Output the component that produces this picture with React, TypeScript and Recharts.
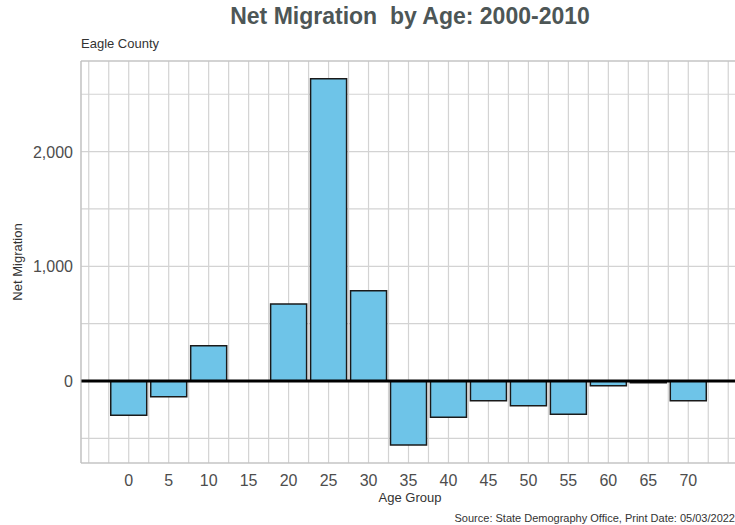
import React from "react";
import {
  BarChart,
  Bar,
  XAxis,
  YAxis,
  CartesianGrid,
  ReferenceLine,
} from "recharts";

const ageGroups = [0, 5, 10, 15, 20, 25, 30, 35, 40, 45, 50, 55, 60, 65, 70];
const netMigration = [
  -299, -137, 308, 0, 671, 2636, 787, -558, -317, -172, -215, -291, -41, -15, -172,
];
const xGridTicks = [
  -5, -2.5, 0, 2.5, 5, 7.5, 10, 12.5, 15, 17.5, 20, 22.5, 25, 27.5, 30, 32.5, 35,
  37.5, 40, 42.5, 45, 47.5, 50, 52.5, 55, 57.5, 60, 62.5, 65, 67.5, 70, 72.5, 75,
];
const yGridTicks = [-500, 0, 500, 1000, 1500, 2000, 2500];

const data = ageGroups.map((age, i) => ({ age, value: netMigration[i] }));

const FONT = "'Liberation Sans', Arial, sans-serif";
const TEXT = "#4d4d4d";

const XTick = (props: any) => {
  const { x, y, payload } = props;
  const v = payload.value;
  if (v < 0 || v > 70 || v % 5 !== 0) return null;
  return (
    <text x={x} y={y + 21} textAnchor="middle" fontSize={16} fill={TEXT} fontFamily={FONT}>
      {v}
    </text>
  );
};

const YTick = (props: any) => {
  const { x, y, payload } = props;
  const v = payload.value;
  if (v % 1000 !== 0) return null;
  return (
    <text x={x} y={y + 6} textAnchor="end" fontSize={16} fill={TEXT} fontFamily={FONT}>
      {v.toLocaleString("en-US")}
    </text>
  );
};

export default function App() {
  return (
    <div
      style={{
        position: "absolute",
        left: 0,
        top: 0,
        width: 735,
        height: 525,
        overflow: "hidden",
        background: "#fff",
        fontFamily: FONT,
      }}
    >
      <div
        style={{
          position: "absolute",
          left: 0,
          width: 820,
          textAlign: "center",
          top: 3,
          fontSize: 23,
          fontWeight: "bold",
          color: "#4d5656",
        }}
      >
        Net Migration&nbsp; by Age: 2000-2010
      </div>
      <div style={{ position: "absolute", left: 81, top: 36, fontSize: 13, color: "#333" }}>
        Eagle County
      </div>
      <div
        style={{
          position: "absolute",
          left: 17,
          top: 262,
          transform: "translate(-50%, -50%) rotate(-90deg)",
          fontSize: 13,
          color: "#333",
          whiteSpace: "nowrap",
        }}
      >
        Net Migration
      </div>
      <div
        style={{
          position: "absolute",
          left: 410,
          top: 490,
          transform: "translateX(-50%)",
          fontSize: 13,
          color: "#333",
          whiteSpace: "nowrap",
        }}
      >
        Age Group
      </div>
      <div
        style={{
          position: "absolute",
          right: 0,
          top: 512,
          fontSize: 11,
          color: "#333",
          whiteSpace: "nowrap",
        }}
      >
        Source: State Demography Office, Print Date: 05/03/2022
      </div>
      <BarChart
        width={736}
        height={525}
        data={data}
        margin={{ top: 61, right: 0, bottom: 32, left: 0 }}
        style={{ position: "absolute", left: 0, top: 0 }}
      >
        <CartesianGrid stroke="#d3d3d3" strokeWidth={1.2} />
        <XAxis
          dataKey="age"
          type="number"
          domain={[-5.97, 75.97]}
          ticks={xGridTicks}
          interval={0}
          height={30}
          tick={<XTick />}
          tickLine={false}
          tickSize={0}
          axisLine={{ stroke: "#bdbdbd" }}
          allowDataOverflow
        />
        <YAxis
          type="number"
          domain={[-715, 2790]}
          ticks={yGridTicks}
          interval={0}
          width={81}
          tick={<YTick />}
          tickLine={false}
          tickSize={0}
          tickMargin={8}
          axisLine={{ stroke: "#bdbdbd" }}
          allowDataOverflow
        />
        <ReferenceLine y={2790} stroke="#bdbdbd" ifOverflow="extendDomain" />
        <Bar
          dataKey="value"
          fill="#6ec4e8"
          stroke="#1a1a1a"
          strokeWidth={1.5}
          barSize={36}
          isAnimationActive={false}
        />
        <ReferenceLine y={0} stroke="#000" strokeWidth={3} />
      </BarChart>
    </div>
  );
}
